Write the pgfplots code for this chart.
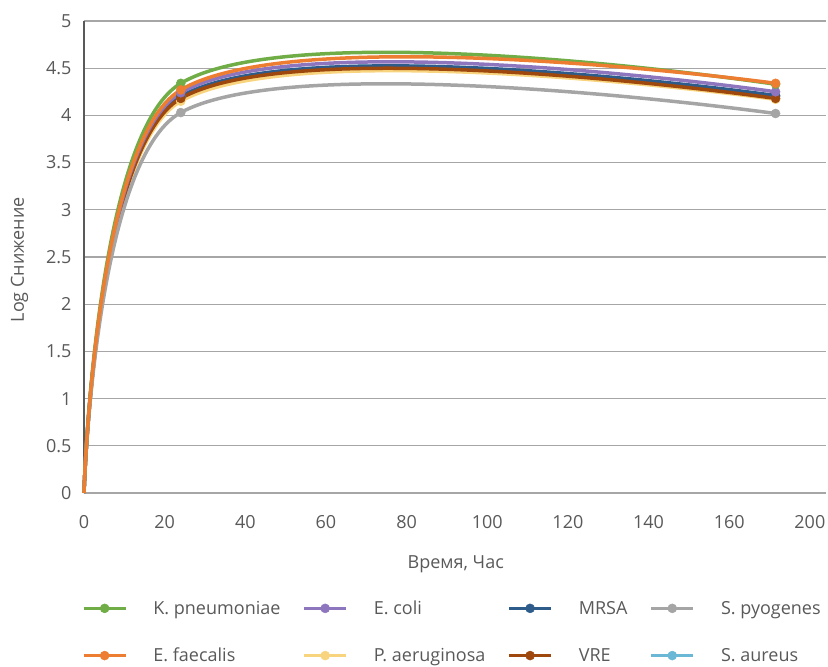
\documentclass[border=0pt]{standalone}
\usepackage{fontspec}
\setmainfont{Open Sans}
\usepackage{pgfplots}
\pgfplotsset{compat=1.18}
\definecolor{txt}{HTML}{595959}
\definecolor{gridc}{HTML}{A6A6A6}
\definecolor{axc}{HTML}{595959}
\definecolor{cgreen}{HTML}{70AD47}
\definecolor{cpurple}{HTML}{8E76BE}
\definecolor{cmrsa}{HTML}{2E5C8A}
\definecolor{cgrey}{HTML}{A5A5A5}
\definecolor{corange}{HTML}{ED7D31}
\definecolor{cyellow}{HTML}{F9D47E}
\definecolor{cbrown}{HTML}{9E480E}
\definecolor{cblue}{HTML}{6BB8D6}
\pgfplotsset{
  % rising part (0 to 24 h)
  serA/.style={color=#1, line width=3.5pt, smooth, tension=0.45, mark=none, forget plot},
  % plateau part (24 h onwards)
  serB/.style={color=#1, line width=3.5pt, smooth, tension=0.62, mark=none, forget plot},
  % markers
  serM/.style={color=#1, only marks, mark=*, mark size=4.5pt, mark indices={2,3},
    mark options={line width=0.5pt, fill=#1, draw=#1}, forget plot},
  leg/.style={color=#1, line width=3.5pt, mark=*, mark size=4.5pt,
    mark options={line width=0.5pt, fill=#1, draw=#1}},
}
\newcommand{\fs}{\fontsize{18}{21.6}\selectfont}
\begin{document}
\begin{tikzpicture}
\path[use as bounding box] (-84pt,-174pt) rectangle (744pt,493pt);
\begin{axis}[
  at={(0pt,0pt)}, anchor=south west,
  scale only axis, width=742pt, height=472pt,
  xmin=0, xmax=184, ymin=0, ymax=5,
  clip=false,
  axis x line*=bottom, axis y line*=left,
  x axis line style={draw=gridc, line width=1.2pt, -},
  y axis line style={draw=axc, line width=1.2pt, -},
  major tick length=0pt,
  ymajorgrids, major grid style={draw=gridc, line width=1.2pt},
  xtick={0,20,40,60,80,100,120,140,160,180},
  xticklabels={0,20,40,60,80,100,120,140,160,200},
  ytick={0,0.5,1,1.5,2,2.5,3,3.5,4,4.5,5},
  yticklabels={0,0.5,1,1.5,2,2.5,3,3.5,4,4.5,5},
  tick label style={font=\fs, text=txt},
  xticklabel style={yshift=-19pt},
  yticklabel style={xshift=-9pt},
  xlabel={Время, Час}, ylabel={Log Снижение},
  label style={font=\fs, text=txt},
  xlabel style={at={(axis description cs:0.501,-0.15)}, anchor=center},
  ylabel style={at={(axis description cs:-0.087,0.494)}, anchor=center},
  legend columns=4,
  legend image code/.code={\draw[#1, mark repeat=2, mark phase=2] plot coordinates {(0pt,0pt) (21pt,0pt) (42pt,0pt)};},
  legend style={at={(axis description cs:0.495,-0.2945)}, anchor=center, draw=none, fill=none,
    font=\fs, text=txt, row sep=32pt, nodes={inner sep=0pt},
    /tikz/every odd column/.append style={column sep=26pt},
    /tikz/every even column/.append style={column sep=22pt}},
  legend cell align=left,
]
% ---- S. aureus
\begin{scope}\clip (axis cs:-5,-1) rectangle (axis cs:24,6);
\addplot[serA=cblue] coordinates {(0,0) (24,4.20) (171.5,4.20)};
\end{scope}
\begin{scope}\clip (axis cs:24,-1) rectangle (axis cs:200,6);
\addplot[serB=cblue] coordinates {(0,0) (24,4.20) (171.5,4.20)};
\end{scope}
\addplot[serM=cblue] coordinates {(0,0) (24,4.20) (171.5,4.20)};
% ---- P. aeruginosa
\begin{scope}\clip (axis cs:-5,-1) rectangle (axis cs:24,6);
\addplot[serA=cyellow] coordinates {(0,0) (24,4.15) (171.5,4.17)};
\end{scope}
\begin{scope}\clip (axis cs:24,-1) rectangle (axis cs:200,6);
\addplot[serB=cyellow] coordinates {(0,0) (24,4.15) (171.5,4.17)};
\end{scope}
\addplot[serM=cyellow] coordinates {(0,0) (24,4.15) (171.5,4.17)};
% ---- MRSA
\begin{scope}\clip (axis cs:-5,-1) rectangle (axis cs:24,6);
\addplot[serA=cmrsa] coordinates {(0,0) (24,4.20) (171.5,4.21)};
\end{scope}
\begin{scope}\clip (axis cs:24,-1) rectangle (axis cs:200,6);
\addplot[serB=cmrsa] coordinates {(0,0) (24,4.20) (171.5,4.21)};
\end{scope}
\addplot[serM=cmrsa] coordinates {(0,0) (24,4.20) (171.5,4.21)};
% ---- VRE
\begin{scope}\clip (axis cs:-5,-1) rectangle (axis cs:24,6);
\addplot[serA=cbrown] coordinates {(0,0) (24,4.18) (171.5,4.18)};
\end{scope}
\begin{scope}\clip (axis cs:24,-1) rectangle (axis cs:200,6);
\addplot[serB=cbrown] coordinates {(0,0) (24,4.18) (171.5,4.18)};
\end{scope}
\addplot[serM=cbrown] coordinates {(0,0) (24,4.18) (171.5,4.18)};
% ---- E. coli
\begin{scope}\clip (axis cs:-5,-1) rectangle (axis cs:24,6);
\addplot[serA=cpurple] coordinates {(0,0) (24,4.24) (171.5,4.25)};
\end{scope}
\begin{scope}\clip (axis cs:24,-1) rectangle (axis cs:200,6);
\addplot[serB=cpurple] coordinates {(0,0) (24,4.24) (171.5,4.25)};
\end{scope}
\addplot[serM=cpurple] coordinates {(0,0) (24,4.24) (171.5,4.25)};
% ---- S. pyogenes
\begin{scope}\clip (axis cs:-5,-1) rectangle (axis cs:24,6);
\addplot[serA=cgrey] coordinates {(0,0) (24,4.03) (171.5,4.02)};
\end{scope}
\begin{scope}\clip (axis cs:24,-1) rectangle (axis cs:200,6);
\addplot[serB=cgrey] coordinates {(0,0) (24,4.03) (171.5,4.02)};
\end{scope}
\addplot[serM=cgrey] coordinates {(0,0) (24,4.03) (171.5,4.02)};
% ---- K. pneumoniae
\begin{scope}\clip (axis cs:-5,-1) rectangle (axis cs:24,6);
\addplot[serA=cgreen] coordinates {(0,0) (24,4.34) (171.5,4.33)};
\end{scope}
\begin{scope}\clip (axis cs:24,-1) rectangle (axis cs:200,6);
\addplot[serB=cgreen] coordinates {(0,0) (24,4.34) (171.5,4.33)};
\end{scope}
\addplot[serM=cgreen] coordinates {(0,0) (24,4.34) (171.5,4.33)};
% ---- E. faecalis
\begin{scope}\clip (axis cs:-5,-1) rectangle (axis cs:24,6);
\addplot[serA=corange] coordinates {(0,0) (24,4.27) (171.5,4.34)};
\end{scope}
\begin{scope}\clip (axis cs:24,-1) rectangle (axis cs:200,6);
\addplot[serB=corange] coordinates {(0,0) (24,4.27) (171.5,4.34)};
\end{scope}
\addplot[serM=corange] coordinates {(0,0) (24,4.27) (171.5,4.34)};

\addlegendimage{leg=cgreen}\addlegendentry{K. pneumoniae}
\addlegendimage{leg=cpurple}\addlegendentry{E. coli}
\addlegendimage{leg=cmrsa}\addlegendentry{MRSA}
\addlegendimage{leg=cgrey}\addlegendentry{S. pyogenes}
\addlegendimage{leg=corange}\addlegendentry{E. faecalis}
\addlegendimage{leg=cyellow}\addlegendentry{P. aeruginosa}
\addlegendimage{leg=cbrown}\addlegendentry{VRE}
\addlegendimage{leg=cblue}\addlegendentry{S. aureus}
\end{axis}
\end{tikzpicture}
\end{document}
